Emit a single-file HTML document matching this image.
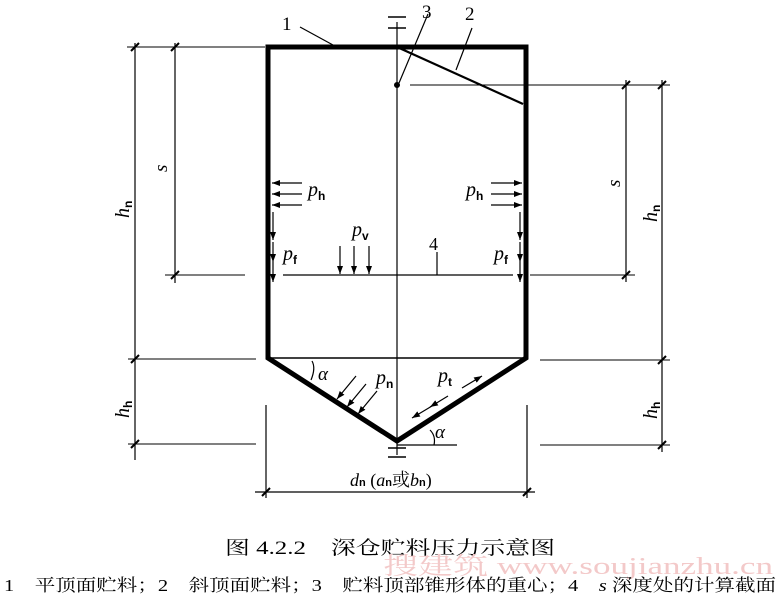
<!DOCTYPE html>
<html><head><meta charset="utf-8"><style>
html,body{margin:0;padding:0;background:#fff;width:779px;height:600px;overflow:hidden}
svg{display:block}
text{font-family:"Liberation Serif","Noto Serif CJK SC",serif;fill:#000}
.i{font-style:italic}
.s{font-style:normal;font-weight:bold;font-family:"Liberation Sans",sans-serif}
</style></head><body>
<svg width="779" height="600" viewBox="0 0 779 600" xmlns="http://www.w3.org/2000/svg">
<defs>
<marker id="a" markerWidth="8" markerHeight="6" refX="8" refY="3" orient="auto" markerUnits="userSpaceOnUse"><path d="M0,0 L8,3 L0,6 z" fill="#000"/></marker>
</defs>
<g stroke="#000" fill="none">
<path d="M268,47 L526,47 L526,358 L397,441 L268,358 Z" stroke-width="5" stroke-linejoin="miter"/>
<line x1="270" y1="358" x2="524" y2="358" stroke-width="1.5"/>
<line x1="397" y1="47" x2="523" y2="104" stroke-width="2.2"/>
<line x1="397" y1="22" x2="397" y2="455" stroke-width="1.2"/>
<line x1="388" y1="17" x2="406" y2="17" stroke-width="1.5"/>
<line x1="388" y1="28" x2="406" y2="28" stroke-width="1.5"/>
<line x1="388" y1="448" x2="406" y2="448" stroke-width="1.5"/>
<line x1="388" y1="457" x2="406" y2="457" stroke-width="1.5"/>
<line x1="300" y1="27" x2="333" y2="45" stroke-width="1.2"/>
<line x1="428" y1="14" x2="399" y2="83" stroke-width="1.2"/>
<line x1="472" y1="28" x2="456" y2="70" stroke-width="1.2"/>
<circle cx="397" cy="85" r="2.5" fill="#000"/>
<line x1="127" y1="47" x2="265" y2="47" stroke-width="1"/>
<line x1="410" y1="85" x2="670" y2="85" stroke-width="1"/>
<line x1="165" y1="275" x2="245" y2="275" stroke-width="1"/>
<line x1="283" y1="275" x2="513" y2="275" stroke-width="1.2"/>
<line x1="530" y1="275" x2="635" y2="275" stroke-width="1"/>
<line x1="128" y1="359" x2="256" y2="359" stroke-width="1"/>
<line x1="540" y1="360" x2="670" y2="360" stroke-width="1"/>
<line x1="128" y1="444" x2="256" y2="444" stroke-width="1"/>
<line x1="540" y1="445" x2="670" y2="445" stroke-width="1"/>
<line x1="397" y1="445" x2="457" y2="445" stroke-width="1.2"/>
<line x1="135" y1="43" x2="135" y2="460" stroke-width="1.2"/>
<line x1="175" y1="43" x2="175" y2="283" stroke-width="1.2"/>
<line x1="626" y1="80" x2="626" y2="282" stroke-width="1.2"/>
<line x1="662" y1="80" x2="662" y2="452" stroke-width="1.2"/>
<line x1="266" y1="405" x2="266" y2="498" stroke-width="1.2"/>
<line x1="527" y1="405" x2="527" y2="498" stroke-width="1.2"/>
<line x1="255" y1="492" x2="535" y2="492" stroke-width="1.2"/>
<g stroke-width="2">
<line x1="131" y1="51" x2="139" y2="43"/><line x1="171" y1="51" x2="179" y2="43"/>
<line x1="171" y1="279" x2="179" y2="271"/><line x1="131" y1="363" x2="139" y2="355"/>
<line x1="131" y1="448" x2="139" y2="440"/>
<line x1="622" y1="89" x2="630" y2="81"/><line x1="658" y1="89" x2="666" y2="81"/>
<line x1="622" y1="279" x2="630" y2="271"/><line x1="658" y1="364" x2="666" y2="356"/>
<line x1="658" y1="449" x2="666" y2="441"/>
<line x1="262" y1="496" x2="270" y2="488"/><line x1="523" y1="496" x2="531" y2="488"/>
</g>
<g stroke-width="1.2">
<line x1="302" y1="183" x2="272" y2="183" marker-end="url(#a)"/>
<line x1="302" y1="194" x2="272" y2="194" marker-end="url(#a)"/>
<line x1="302" y1="205" x2="272" y2="205" marker-end="url(#a)"/>
<line x1="491" y1="183" x2="522" y2="183" marker-end="url(#a)"/>
<line x1="491" y1="194" x2="522" y2="194" marker-end="url(#a)"/>
<line x1="491" y1="205" x2="522" y2="205" marker-end="url(#a)"/>
<line x1="273" y1="212" x2="273" y2="240" marker-end="url(#a)"/>
<line x1="273" y1="242" x2="273" y2="262" marker-end="url(#a)"/>
<line x1="273" y1="262" x2="273" y2="282" marker-end="url(#a)"/>
<line x1="520" y1="212" x2="520" y2="240" marker-end="url(#a)"/>
<line x1="520" y1="242" x2="520" y2="262" marker-end="url(#a)"/>
<line x1="520" y1="262" x2="520" y2="282" marker-end="url(#a)"/>
<line x1="340" y1="246" x2="340" y2="274" marker-end="url(#a)"/>
<line x1="354" y1="246" x2="354" y2="274" marker-end="url(#a)"/>
<line x1="369" y1="246" x2="369" y2="274" marker-end="url(#a)"/>
<line x1="437" y1="252" x2="437" y2="275"/>
<line x1="356" y1="376" x2="337" y2="399" marker-end="url(#a)"/>
<line x1="366" y1="384" x2="347" y2="407" marker-end="url(#a)"/>
<line x1="377" y1="391" x2="358" y2="414" marker-end="url(#a)"/>
<line x1="462" y1="388" x2="482" y2="376" marker-end="url(#a)"/>
<line x1="448" y1="396" x2="430" y2="407" marker-end="url(#a)"/>
<line x1="432" y1="406" x2="412" y2="418" marker-end="url(#a)"/>
<path d="M312,361 Q316,368 311,380" />
<path d="M430,430 Q436,436 434,445"/>
</g>
</g>
<text x="282" y="30" font-size="19">1</text>
<text x="422" y="18" font-size="19">3</text>
<text x="465" y="20" font-size="19">2</text>
<text x="429" y="250" font-size="18">4</text>
<text class="i" x="308" y="196" font-size="20">p<tspan class="s" font-size="12" dy="4">h</tspan></text>
<text class="i" x="466" y="196" font-size="20">p<tspan class="s" font-size="12" dy="4">h</tspan></text>
<text class="i" x="283" y="260" font-size="20">p<tspan class="s" font-size="12" dy="4">f</tspan></text>
<text class="i" x="494" y="260" font-size="20">p<tspan class="s" font-size="12" dy="4">f</tspan></text>
<text class="i" x="352" y="236" font-size="20">p<tspan class="s" font-size="12" dy="4">v</tspan></text>
<text class="i" x="376" y="384" font-size="20">p<tspan class="s" font-size="12" dy="4">n</tspan></text>
<text class="i" x="438" y="382" font-size="20">p<tspan class="s" font-size="12" dy="4">t</tspan></text>
<text class="i" x="318" y="380" font-size="19">α</text>
<text class="i" x="435" y="438" font-size="19">α</text>
<text class="i" x="167" y="172" font-size="19" transform="rotate(-90 167 172)">s</text>
<text class="i" x="620" y="187" font-size="19" transform="rotate(-90 620 187)">s</text>
<text class="i" x="129" y="218" font-size="20" transform="rotate(-90 129 218)">h<tspan class="s" font-size="12" dy="3">n</tspan></text>
<text class="i" x="657" y="222" font-size="20" transform="rotate(-90 657 222)">h<tspan class="s" font-size="12" dy="3">n</tspan></text>
<text class="i" x="129" y="418" font-size="20" transform="rotate(-90 129 418)">h<tspan class="s" font-size="12" dy="3">h</tspan></text>
<text class="i" x="657" y="419" font-size="20" transform="rotate(-90 657 419)">h<tspan class="s" font-size="12" dy="3">h</tspan></text>
<text x="350" y="486" font-size="18"><tspan font-style="italic">d</tspan><tspan class="s" font-size="11">n</tspan> (<tspan font-style="italic">a</tspan><tspan class="s" font-size="11">n</tspan>或<tspan font-style="italic">b</tspan><tspan class="s" font-size="11">n</tspan>)</text>
<text x="225" y="554" font-size="19" textLength="330" lengthAdjust="spacingAndGlyphs">图 4.2.2　深仓贮料压力示意图</text>
<text x="383" y="574" font-size="24" style="fill:#f3c9c9" font-family="Liberation Sans,Noto Sans CJK SC,sans-serif" textLength="390" lengthAdjust="spacingAndGlyphs">搜建筑 www.soujianzhu.cn</text>
<text x="4" y="591" font-size="17" textLength="772" lengthAdjust="spacingAndGlyphs">1　平顶面贮料；2　斜顶面贮料；3　贮料顶部锥形体的重心；4　<tspan font-style="italic">s</tspan> 深度处的计算截面</text>
</svg>
</body></html>
